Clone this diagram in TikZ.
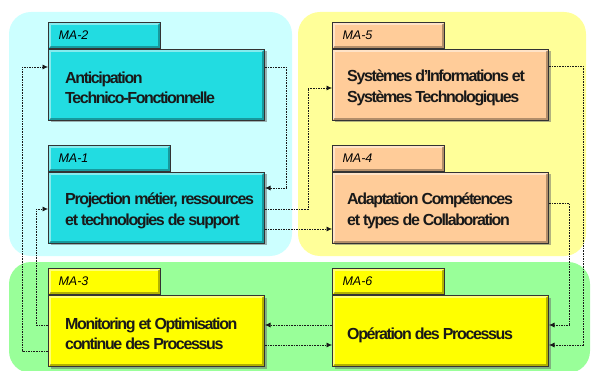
\documentclass[tikz,border=0pt]{standalone}
\usepackage{fontspec}
\setmainfont{Liberation Sans}
\newfontfamily\blockfont[LetterSpace=-8.5]{Liberation Sans}
\usetikzlibrary{shapes,arrows.meta,positioning,shadows}

\definecolor{zonecyan}{RGB}{204,255,255}
\definecolor{zoneyellow}{RGB}{255,255,153}
\definecolor{zonegreen}{RGB}{153,255,153}
\definecolor{boxcyan}{RGB}{34,220,225}
\definecolor{boxorange}{RGB}{255,204,153}
\definecolor{boxyellow}{RGB}{255,255,0}

\tikzstyle{zone} = [rounded corners=22pt]
\tikzstyle{bevel} = [path picture={
    \draw[white, opacity=.45, line width=2pt]
      ([shift={(1.5pt,1.5pt)}]path picture bounding box.south west) |- ([shift={(-1.5pt,-1.5pt)}]path picture bounding box.north east);
    \draw[black, opacity=.3, line width=2pt]
      ([shift={(1.5pt,1.5pt)}]path picture bounding box.south west) -| ([shift={(-1.5pt,-1.5pt)}]path picture bounding box.north east);
  }]
\tikzstyle{block} = [draw=black!80, line width=1pt, rectangle, minimum width=216pt, minimum height=71pt, inner sep=0pt, bevel,
  drop shadow={shadow xshift=2pt, shadow yshift=-2pt, fill=black!60, opacity=.5}]
\tikzstyle{tab} = [draw=black!80, line width=1pt, rectangle, minimum height=26pt, text width=92pt, inner xsep=10pt, inner ysep=0pt,
  align=left, bevel, font=\itshape\fontsize{12.5}{14}\selectfont]
\tikzstyle{blocktext} = [anchor=west, align=left, inner sep=0pt, text=black!90, font=\blockfont\bfseries\fontsize{16}{20.5}\selectfont]
\tikzstyle{link} = [draw=black!90, line width=0.65pt, dash pattern=on 1.6pt off 1pt, ->]

\begin{document}
\begin{tikzpicture}[x=1pt, y=-1pt, >={Latex[length=5.5pt,width=5pt]}]
\useasboundingbox (0,0) rectangle (591,371);

    % Background zones
    \fill[zone, zonecyan] (9,12) rectangle (292,256);
    \fill[zone, zoneyellow] (298,12) rectangle (586,256);
    \fill[zone, zonegreen] (9,262) rectangle (590,373);

    % We start by placing the blocks
    \node [block, fill=boxcyan, anchor=north west] (ma2) at (48,49) {};
    \node [block, fill=boxcyan, below=51pt of ma2] (ma1) {};
    \node [block, fill=boxyellow, below=51pt of ma1] (ma3) {};
    \node [block, fill=boxorange, right=67pt of ma2] (ma5) {};
    \node [block, fill=boxorange, right=67pt of ma1] (ma4) {};
    \node [block, fill=boxyellow, right=67pt of ma3] (ma6) {};

    % Tabs
    \node [tab, fill=boxcyan, anchor=south west] (ma2tab) at (ma2.north west) {MA-2};
    \node [tab, fill=boxcyan, anchor=south west, text width=102pt] (ma1tab) at (ma1.north west) {MA-1};
    \node [tab, fill=boxyellow, anchor=south west] (ma3tab) at (ma3.north west) {MA-3};
    \node [tab, fill=boxorange, anchor=south west] (ma5tab) at (ma5.north west) {MA-5};
    \node [tab, fill=boxorange, anchor=south west] (ma4tab) at (ma4.north west) {MA-4};
    \node [tab, fill=boxyellow, anchor=south west] (ma6tab) at (ma6.north west) {MA-6};

    % Texts
    \node [blocktext] (ma2txt) at ([xshift=17pt, yshift=-3pt]ma2.west) {Anticipation\\Technico-Fonctionnelle};
    \node [blocktext] (ma1txt) at ([xshift=17pt, yshift=-3pt]ma1.west) {Projection métier, ressources\\et technologies de support};
    \node [blocktext] (ma3txt) at ([xshift=17pt, yshift=-3pt]ma3.west) {Monitoring et Optimisation\\continue des Processus};
    \node [blocktext] (ma5txt) at ([xshift=15pt, yshift=-3pt]ma5.west) {Systèmes d’Informations et\\Systèmes Technologiques};
    \node [blocktext] (ma4txt) at ([xshift=15pt, yshift=-3pt]ma4.west) {Adaptation Compétences\\et types de Collaboration};
    \node [blocktext] (ma6txt) at ([xshift=15pt, yshift=-4pt]ma6.west) {Opération des Processus};

    % Connectors
    \draw [link] ([yshift=-18pt]ma2.north east) -- ++(21,0) |- ([yshift=-16pt]ma1.north east);
    \draw [link] ([yshift=-37pt]ma1.north east) -- ++(43,0) |- ([yshift=-39pt]ma5.north west);
    \draw [link] ([yshift=-57pt]ma1.north east) -- ([yshift=-57pt]ma4.north west);
    \draw [link] ([yshift=-17pt]ma5.north east) -- ++(34,0) |- ([yshift=-50pt]ma6.north east);
    \draw [link] ([yshift=-31pt]ma4.north east) -- ++(20,0) |- ([yshift=-30pt]ma6.north east);
    \draw [link] ([yshift=-30pt]ma6.north west) -- ([yshift=-30pt]ma3.north east);
    \draw [link] ([yshift=-50pt]ma3.north east) -- ([yshift=-50pt]ma6.north west);
    \draw [link] ([yshift=-30pt]ma3.north west) -- ++(-12,0) |- ([yshift=-37pt]ma1.north west);
    \draw [link] ([yshift=-56pt]ma3.north west) -- ++(-26,0) |- ([yshift=-18pt]ma2.north west);

\end{tikzpicture}
\end{document}
